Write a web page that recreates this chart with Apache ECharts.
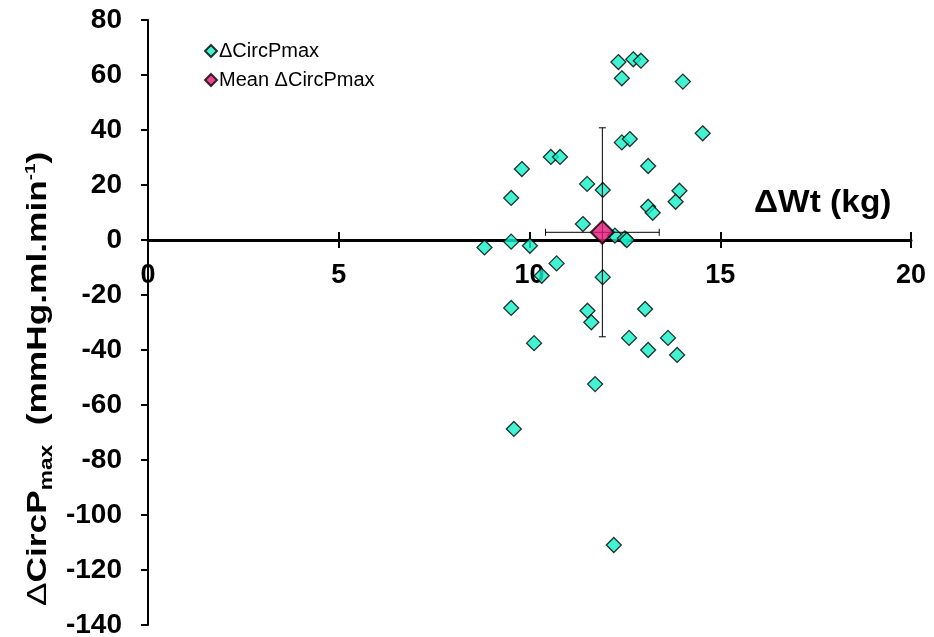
<!DOCTYPE html>
<html>
<head>
<meta charset="utf-8">
<script src="https://cdn.jsdelivr.net/npm/echarts@6/dist/echarts.min.js"></script>
<style>
html,body{margin:0;padding:0;background:#fff;}
#c{width:934px;height:637px;}
</style>
</head>
<body>
<div id="c"></div>
<script>
// ---- data ----
const wtChange = [8.82, 9.52, 10.01, 9.52, 9.80, 10.56, 10.80, 10.71, 10.32, 9.52, 10.12, 9.59,
  11.51, 11.40, 11.92, 11.92, 11.52, 11.62, 11.72, 12.21, 12.24, 12.50, 12.55, 13.11, 13.23,
  13.93, 13.83, 13.11, 12.33, 12.72, 12.92, 12.42, 14.02, 12.42, 12.63, 14.54, 13.03, 12.61,
  13.11, 13.63, 13.87];
const circPmaxChange = [-2.7, -0.6, -2.1, 15.3, 25.8, 30.2, 30.2, -8.5, -13.0, -24.7, -37.5, -68.7,
  20.4, 5.8, 18.2, -13.5, -25.7, -29.9, -52.4, -110.9, 1.6, 0.6, 0.0, 12.1, 9.9,
  17.9, 13.9, 26.9, 64.7, 65.7, 65.2, 58.8, 57.6, 35.5, 36.7, 38.8, -25.1, -35.6,
  -40.0, -35.6, -41.8];
const meanX = [11.91];
const meanY = [2.8];
const sdX = [1.49];
const sdY = [38.0];
const xRange = [0, 20, 5];
const yRange = [-140, 80, 20];
const seriesNames = ['\u0394CircPmax', 'Mean \u0394CircPmax'];

const chart = echarts.init(document.getElementById('c'), null, {renderer: 'canvas'});
const FONT = 'Liberation Sans, Arial, sans-serif';

// plot area geometry
const L = 148, R = 23, T = 20, B = 12, H = 637 - T - B;
const zeroFrac = yRange[1] / (yRange[1] - yRange[0]);   // share of plot height above y = 0
const upperH = Math.round(H * zeroFrac);
const common = {left: L, right: R, containLabel: false, outerBoundsMode: 'none'};

const tickStyle = {color: '#000', width: 2};
const option = {
  animation: false,
  backgroundColor: '#fff',
  grid: [
    Object.assign({top: T, bottom: B}, common),                 // data grid
    Object.assign({top: T, height: upperH}, common)             // x axis drawn at y = 0
  ],
  legend: {
    orient: 'vertical', left: 199, top: 36, itemGap: 9,
    itemWidth: 12, itemHeight: 12,
    textStyle: {fontFamily: FONT, fontSize: 20, color: '#000', padding: [0, 0, 0, -3]},
    data: [{name: seriesNames[0], icon: 'diamond'}, {name: seriesNames[1], icon: 'diamond'}]
  },
  xAxis: [{
    gridIndex: 0, type: 'value', min: xRange[0], max: xRange[1], interval: xRange[2], show: false
  }, {
    gridIndex: 1, type: 'value', min: xRange[0], max: xRange[1], interval: xRange[2],
    position: 'bottom', offset: 0,
    axisLine: {show: true, onZero: false, lineStyle: {color: '#000', width: 3}},
    axisTick: {show: true, length: 8, inside: false, lineStyle: tickStyle},
    axisLabel: {margin: 22, fontFamily: FONT, fontSize: 27, fontWeight: 'bold', color: '#000'},
    splitLine: {show: false}
  }, {
    gridIndex: 1, type: 'value', min: xRange[0], max: xRange[1], interval: xRange[2],
    position: 'bottom', offset: 0,
    axisLine: {show: false, onZero: false},
    axisTick: {show: true, length: 8, inside: true, lineStyle: tickStyle},
    axisLabel: {show: false},
    splitLine: {show: false}
  }],
  yAxis: [{
    gridIndex: 0, type: 'value', min: yRange[0], max: yRange[1], interval: yRange[2],
    axisLine: {show: true, onZero: false, lineStyle: {color: '#000', width: 2}},
    axisTick: {show: true, length: 7, lineStyle: tickStyle},
    axisLabel: {margin: 26, fontFamily: FONT, fontSize: 28, fontWeight: 'bold', color: '#000'},
    splitLine: {show: false}
  }, {
    gridIndex: 1, type: 'value', min: 0, max: yRange[1], show: false
  }],
  graphic: [{
    type: 'text', x: 754, y: 188, scaleX: 1.08,
    style: {text: '\u0394Wt (kg)', font: 'bold 31px ' + FONT, fill: '#000'}
  }, {
    type: 'text', x: 21, y: 606, rotation: Math.PI / 2, scaleX: 1.26,
    style: {
      text: '{d|\u0394}{a|CircP}{s|max}{a|  (mmHg.ml.min}{p|-1}{a|)}',
      fill: '#000',
      rich: {
        d: {fontFamily: FONT, fontSize: 28, fontWeight: 'normal'},
        a: {fontFamily: FONT, fontSize: 28, fontWeight: 'bold'},
        s: {fontFamily: FONT, fontSize: 18, fontWeight: 'bold', padding: [17, 0, 0, 0]},
        p: {fontFamily: FONT, fontSize: 15, fontWeight: 'bold', padding: [0, 0, 15, 0]}
      }
    }
  }],
  series: [{
    name: seriesNames[0], type: 'scatter', symbol: 'diamond', symbolSize: 15,
    xAxisIndex: 0, yAxisIndex: 0,
    itemStyle: {color: '#12F0C8', borderColor: '#000', borderWidth: 1.3},
    data: wtChange.map((x, i) => [x, circPmaxChange[i]]),
    z: 3
  }, {
    name: 'errorbars', type: 'custom', z: 4, xAxisIndex: 0, yAxisIndex: 0,
    data: meanX.map((x, i) => [x, meanY[i], sdX[i], sdY[i]]),
    encode: {x: 0, y: 1},
    renderItem: function (params, api) {
      const mx = api.value(0), my = api.value(1), ex = api.value(2), ey = api.value(3);
      const l = api.coord([mx - ex, my]), r = api.coord([mx + ex, my]);
      const t = api.coord([mx, my + ey]), b = api.coord([mx, my - ey]);
      const cap = 3.5;
      const st = {stroke: '#000', lineWidth: 1};
      const ln = (x1, y1, x2, y2) => ({type: 'line', shape: {x1, y1, x2, y2}, style: st});
      return {type: 'group', children: [
        ln(l[0], l[1], r[0], r[1]),
        ln(l[0], l[1] - cap, l[0], l[1] + cap),
        ln(r[0], r[1] - cap, r[0], r[1] + cap),
        ln(t[0], t[1], b[0], b[1]),
        ln(t[0] - cap, t[1], t[0] + cap, t[1]),
        ln(b[0] - cap, b[1], b[0] + cap, b[1])
      ]};
    }
  }, {
    name: seriesNames[1], type: 'scatter', symbol: 'diamond', symbolSize: 23,
    xAxisIndex: 0, yAxisIndex: 0,
    itemStyle: {color: '#E6157A', borderColor: '#000', borderWidth: 2},
    data: meanX.map((x, i) => [x, meanY[i]]),
    z: 5
  }]
};
chart.setOption(option);
</script>
</body>
</html>
